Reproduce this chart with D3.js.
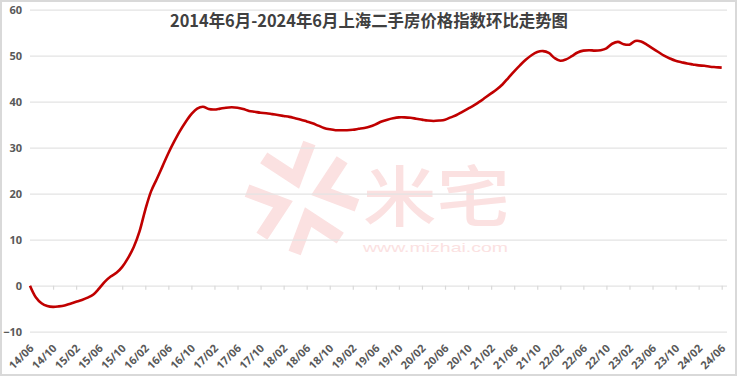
<!DOCTYPE html>
<html><head><meta charset="utf-8">
<script src="https://cdn.jsdelivr.net/npm/d3@7"></script>
<style>body{margin:0;background:#fff} svg{display:block}</style>
</head><body><svg id="c" width="740" height="379"></svg>
<script>
const title = "2014年6月-2024年6月上海二手房价格指数环比走势图";
const tickLabels = ["14/06","14/10","15/02","15/06","15/10","16/02","16/06","16/10","17/02","17/06","17/10","18/02","18/06","18/10","19/02","19/06","19/10","20/02","20/06","20/10","21/02","21/06","21/10","22/02","22/06","22/10","23/02","23/06","23/10","24/02","24/06"];
// monthly values, 2014/06 .. 2024/06
const values = [
  0, -2.5, -3.8, -4.4, -4.6, -4.5, -4.3, -3.9, -3.5, -3.1,
  -2.6, -1.9, -0.6, 0.9, 2.0, 2.8, 4.1, 6.0, 8.4, 11.8,
  16.5, 20.5, 23.2, 26.0, 28.8, 31.3, 33.6, 35.6, 37.3, 38.5,
  38.9, 38.4, 38.3, 38.5, 38.7, 38.8, 38.7, 38.4, 38.0, 37.8,
  37.6, 37.5, 37.3, 37.1, 36.9, 36.7, 36.4, 36.1, 35.7, 35.3,
  34.8, 34.3, 34.0, 33.8, 33.8, 33.8, 33.9, 34.1, 34.3, 34.6,
  35.1, 35.7, 36.1, 36.4, 36.6, 36.6, 36.5, 36.3, 36.1, 35.9,
  35.8, 35.9, 36.1, 36.6, 37.1, 37.8, 38.5, 39.2, 40.0, 40.9,
  41.8, 42.7, 43.8, 45.2, 46.6, 47.9, 49.1, 50.1, 50.8, 51.0,
  50.6, 49.5, 48.9, 49.2, 49.9, 50.7, 51.1, 51.2, 51.1, 51.2,
  51.6, 52.6, 53.0, 52.5, 52.4, 53.2, 53.1, 52.4, 51.6, 50.8,
  50.0, 49.4, 48.9, 48.6, 48.3, 48.1, 47.9, 47.8, 47.6, 47.5,
  47.4
];
const yTicks = [-10, 0, 10, 20, 30, 40, 50, 60];

const svg = d3.select("#c");
const x = d3.scaleLinear().domain([0, values.length - 1]).range([30, 721.7]);
const y = d3.scaleLinear().domain([-10, 60]).range([331.7, 9.7]);
const gridRight = 727;

// frame
svg.append("rect").attr("x",1).attr("y",1).attr("width",735).attr("height",374)
  .attr("fill","#fff").attr("stroke","#d9d9d9").attr("stroke-width",2);

// watermark
const wm = svg.append("g").attr("fill","#fbe1e1").attr("stroke","#fbe1e1");
const logo = wm.append("g").attr("transform","translate(302,198) rotate(-18)");
[0,90,180,270].forEach(a=>{
  logo.append("path").attr("transform",`rotate(${a}) translate(0,-20)`)
    .attr("d","M -24 -30 L 0 0 L 24 -30")
    .attr("fill","none").attr("stroke-width",13).attr("stroke-linejoin","miter");
});
wm.append("text").attr("x",363).attr("y",221).attr("stroke","none")
  .attr("font-family","Noto Sans CJK SC").attr("font-size",66).attr("font-weight",500)
  .attr("textLength",147).attr("lengthAdjust","spacingAndGlyphs").text("米宅");
wm.append("text").attr("x",363).attr("y",252).attr("stroke","none")
  .attr("font-family","Liberation Sans, Arial").attr("font-size",13)
  .attr("textLength",145).attr("lengthAdjust","spacingAndGlyphs").text("www.mizhai.com");

// y axis with gridlines
const yAxis = svg.append("g").attr("transform","translate(30,0)")
  .call(d3.axisLeft(y).tickValues(yTicks).tickSize(-(gridRight-30)).tickPadding(8));
yAxis.select(".domain").remove();
yAxis.selectAll(".tick line").attr("stroke","#e3e3e3").attr("stroke-width",1.3);
yAxis.selectAll(".tick text").attr("fill","#595959").attr("font-size",11)
  .attr("font-weight","bold").attr("font-family","Open Sans, DejaVu Sans, sans-serif");

// x axis ticks along zero line
const tickIdx = d3.range(0, values.length, 4);
const xAxis = svg.append("g").attr("transform",`translate(0,${y(0)})`)
  .call(d3.axisBottom(x).tickValues(tickIdx).tickSize(4).tickFormat(""));
xAxis.select(".domain").remove();
xAxis.selectAll(".tick line").attr("stroke","#d9d9d9").attr("stroke-width",1.2);

// x labels at bottom
const xLab = svg.append("g").attr("transform","translate(0,349)")
  .call(d3.axisBottom(x).tickValues(tickIdx).tickSize(0).tickPadding(0)
    .tickFormat((d,i)=>tickLabels[i]));
xLab.select(".domain").remove();
xLab.selectAll(".tick text").attr("y",0).attr("dy",0)
  .attr("transform","translate(4,0) rotate(-45)").attr("text-anchor","end")
  .attr("fill","#595959").attr("font-size",11).attr("font-weight","bold")
  .attr("font-family","Open Sans, DejaVu Sans, sans-serif");

// line
const line = d3.line().x((d,i)=>x(i)).y(d=>y(d)).curve(d3.curveCatmullRom.alpha(0.5));
svg.append("path").datum(values).attr("d",line).attr("fill","none")
  .attr("stroke","#c00000").attr("stroke-width",2.6).attr("stroke-linejoin","round");

// title
svg.append("text").attr("x",369).attr("y",27).attr("text-anchor","middle")
  .attr("font-family","Noto Sans CJK SC").attr("font-weight","bold").attr("font-size",17)
  .attr("textLength",398).attr("lengthAdjust","spacingAndGlyphs")
  .attr("fill","#404040").text(title);
</script></body></html>
